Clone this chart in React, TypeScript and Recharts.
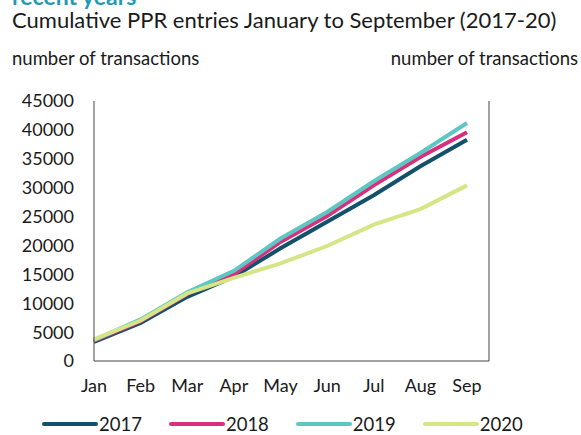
import { LineChart, Line, XAxis, YAxis, Legend } from 'recharts';

const months = ['Jan', 'Feb', 'Mar', 'Apr', 'May', 'Jun', 'Jul', 'Aug', 'Sep'];
const y2017 = [3300, 6600, 11100, 14600, 19500, 24100, 28700, 33700, 38300];
const y2018 = [3500, 6900, 11600, 15000, 20600, 25100, 30400, 35300, 39600];
const y2019 = [3600, 7200, 11900, 15600, 21200, 25800, 31100, 36000, 41200];
const y2020 = [3750, 7000, 11700, 14400, 16900, 19900, 23600, 26300, 30400];
const yTicks = [0, 5000, 10000, 15000, 20000, 25000, 30000, 35000, 40000, 45000];

const series = [
  { key: '2017', values: y2017, color: '#12506b' },
  { key: '2018', values: y2018, color: '#d9307d' },
  { key: '2019', values: y2019, color: '#5ec7c3' },
  { key: '2020', values: y2020, color: '#d6e686' },
];

const data = months.map((m, i) => {
  const row: any = { month: m };
  series.forEach((s) => (row[s.key] = s.values[i]));
  return row;
});

const textColor = '#1a1a1a';
const frame = '#444';

const LegendContent = (props: any) => {
  const { payload } = props;
  return (
    <div style={{ display: 'flex', paddingLeft: 42, gap: 27 }}>
      {payload.map((p: any) => (
        <div key={p.value} style={{ display: 'flex', alignItems: 'center' }}>
          <svg width={56} height={8}>
            <line x1={2} y1={4} x2={54} y2={4} stroke={p.color} strokeWidth={4} strokeLinecap='round' />
          </svg>
          <span style={{ fontSize: 18.5, color: textColor, marginLeft: 1, lineHeight: '22px' }}>{p.value}</span>
        </div>
      ))}
    </div>
  );
};

function App() {
  return (
    <div
      style={{
        position: 'absolute',
        left: 0,
        top: 0,
        width: 581,
        height: 435,
        overflow: 'hidden',
        fontFamily: 'Lato, sans-serif',
        color: textColor,
        background: '#fff',
      }}
    >
      <div style={{ position: 'absolute', left: 12, top: -15, fontSize: 23, lineHeight: '23px', fontWeight: 700, color: '#1f9bb4', whiteSpace: 'nowrap' }}>
        recent years
      </div>
      <div style={{ position: 'absolute', left: 12, top: 9, fontSize: 22, lineHeight: '22px', whiteSpace: 'nowrap' }}>
        Cumulative PPR entries January to September (2017-20)
      </div>
      <div style={{ position: 'absolute', left: 12, top: 49, fontSize: 18.5, lineHeight: '18.5px', whiteSpace: 'nowrap' }}>
        number of transactions
      </div>
      <div style={{ position: 'absolute', right: 3, top: 49, fontSize: 18.5, lineHeight: '18.5px', whiteSpace: 'nowrap' }}>
        number of transactions
      </div>
      <LineChart
        width={581}
        height={435}
        data={data}
        margin={{ top: 101, right: 0, bottom: 44, left: 0 }}
      >
        <XAxis
          dataKey='month'
          height={30}
          padding={{ left: 0, right: 22 }}
          tickLine={false}
          tickMargin={12}
          axisLine={{ stroke: frame }}
          tick={{ fontSize: 18, fill: textColor }}
          interval={0}
        />
        <XAxis
          xAxisId='top'
          orientation='top'
          dataKey='month'
          height={0}
          tick={false}
          tickLine={false}
          axisLine={{ stroke: frame }}
        />
        <YAxis
          width={94}
          domain={[0, 45000]}
          ticks={yTicks}
          tickLine={false}
          tickMargin={14}
          axisLine={{ stroke: frame }}
          tick={{ fontSize: 18, fill: textColor }}
        />
        <YAxis
          yAxisId='right'
          orientation='right'
          width={92}
          domain={[0, 45000]}
          ticks={yTicks}
          tickLine={false}
          tickMargin={12}
          axisLine={{ stroke: frame }}
          tick={{ fontSize: 18, fill: textColor }}
        />
        <Legend
          layout='horizontal'
          verticalAlign='middle'
          align='center'
          wrapperStyle={{ top: 413, left: 0, width: 581 }}
          content={<LegendContent />}
        />
        {series.map((s) => (
          <Line
            key={s.key}
            dataKey={s.key}
            name={s.key}
            stroke={s.color}
            strokeWidth={4}
            dot={false}
            activeDot={false}
            type='linear'
            isAnimationActive={false}
          />
        ))}
      </LineChart>
    </div>
  );
}

export default App;
